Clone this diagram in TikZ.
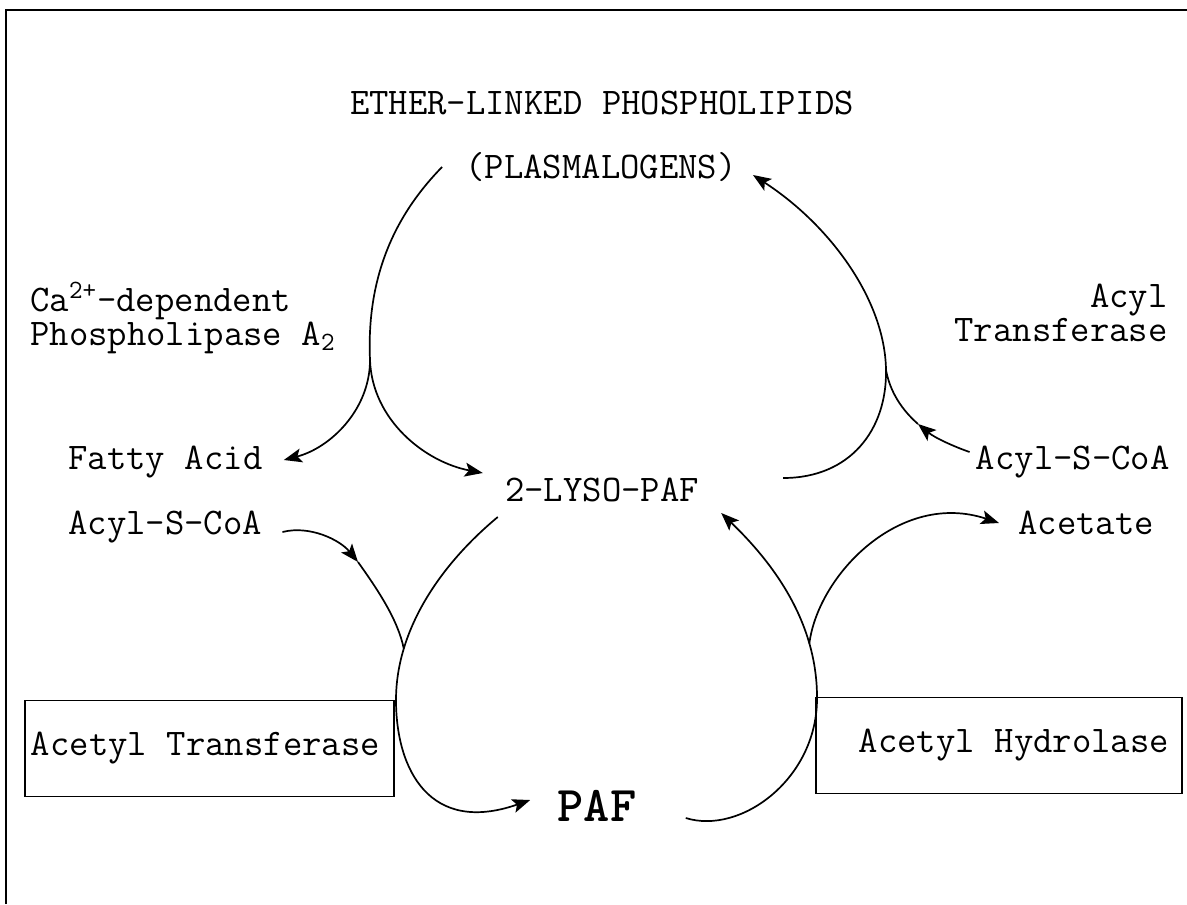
\documentclass[tikz,border=0pt]{standalone}
\usepackage{tikz}
\usetikzlibrary{positioning, calc, arrows.meta}
\newcommand{\diagfont}{\fontsize{18.8}{17}\selectfont\ttfamily\spaceskip=0.525em\relax}
\newcommand{\paffont}{\fontsize{25}{28}\selectfont\ttfamily\bfseries}
\tikzset{
  lbl/.style={font=\diagfont, inner sep=0pt},
  word/.style={lbl, text height=11pt, text depth=0pt},
  enzbox/.style={draw, line width=0.8pt, font=\diagfont, minimum height=48pt, inner ysep=0pt},
  rxn/.style={line width=0.85pt},
  rxnarr/.style={rxn, -{Stealth[length=9pt,width=7pt,inset=2pt]}},
}
\begin{document}
\begin{tikzpicture}[x=0.5pt, y=-0.5pt]
\useasboundingbox (0,0) rectangle (1187,904);
\draw[line width=1.1pt] (6,904) -- (6,10) -- (1187,10);

% compounds and enzymes
\node[word] (ether) at (602,103) {ETHER-LINKED PHOSPHOLIPIDS};
\node[word] (plasm) at (601,167) {(PLASMALOGENS)};
\node[lbl, anchor=west, align=flush left] (pla2) at (30,318) {Ca\textsuperscript{2+}-dependent\\Phospholipase A\textsubscript{2}};
\node[lbl, anchor=east, align=flush right] (acyltr) at (1168,313) {Acyl\\Transferase};
\node[word, anchor=west] (fatty) at (68,458) {Fatty Acid};
\node[word] (lyso) at (602,490) {2-LYSO-PAF};
\node[word, anchor=east] (acylR) at (1170,458) {Acyl-S-CoA};
\node[word, anchor=west] (acylL) at (68,523) {Acyl-S-CoA};
\node[word, anchor=west] (acetate) at (1018,523) {Acetate};
\node[enzbox, text width=178.5pt, inner xsep=3pt, align=flush left] (atbox) at (209.5,748.5) {Acetyl Transferase};
\node[enzbox, text width=170pt, inner xsep=6.5pt, align=flush right] (ahbox) at (999,745.5) {Acetyl Hydrolase};
\node[lbl, font=\paffont] (paf) at (597,806) {PAF};

\coordinate (pla2j) at (370,360);
\coordinate (acylj) at (886,370);
\coordinate (acylRtip) at (918,424);
\coordinate (acylLtip) at (358,562);
\coordinate (atk) at (396,700);
\coordinate (ahk) at (817,700);

% phospholipase A2
\draw[rxn] ($(plasm.west)+(-23,0)$) .. controls (400,210) and (366,270) .. (pla2j);
\draw[rxnarr] (pla2j) .. controls (370,410) and (330,448) .. ($(fatty.east)+(21,2)$);
\draw[rxnarr] (pla2j) .. controls (372,420) and (425,462) .. ($(lyso.west)+(-22,-17)$);

% acyl transferase
\draw[rxn] ($(lyso.east)+(84,-12)$) .. controls (850,478) and (887,430) .. (acylj);
\draw[rxnarr] (acylj) .. controls (885,300) and (830,225) .. ($(plasm.east)+(16,8)$);
\draw[rxnarr] ($(acylR.west)+(-6,-6)$) .. controls (955,447) and (935,438) .. (acylRtip);
\draw[rxn] (acylRtip) .. controls (902,410) and (890,392) .. (acylj);

% acetyl transferase
\draw[rxn] ($(lyso.west)+(-7,27)$) .. controls (440,565) and (396,630) .. (atk) coordinate[pos=0.75] (atj);
\draw[rxnarr] (atk) .. controls (396,770) and (430,835) .. ($(paf.west)+(-27,-6)$);
\draw[rxnarr] ($(acylL.east)+(20,9)$) .. controls (310,525) and (340,540) .. (acylLtip);
\draw[rxn] (acylLtip) .. controls (378,590) and (398,620) .. (atj);

% acetyl hydrolase
\draw[rxn] ($(paf.east)+(49,12)$) .. controls (740,835) and (816,780) .. (ahk);
\draw[rxnarr] (ahk) .. controls (818,620) and (770,560) .. ($(lyso.east)+(22,23)$) coordinate[pos=0.25] (acj);
\draw[rxnarr] (acj) .. controls (818,575) and (900,490) .. ($(acetate.west)+(-19,0)$);
\end{tikzpicture}
\end{document}
